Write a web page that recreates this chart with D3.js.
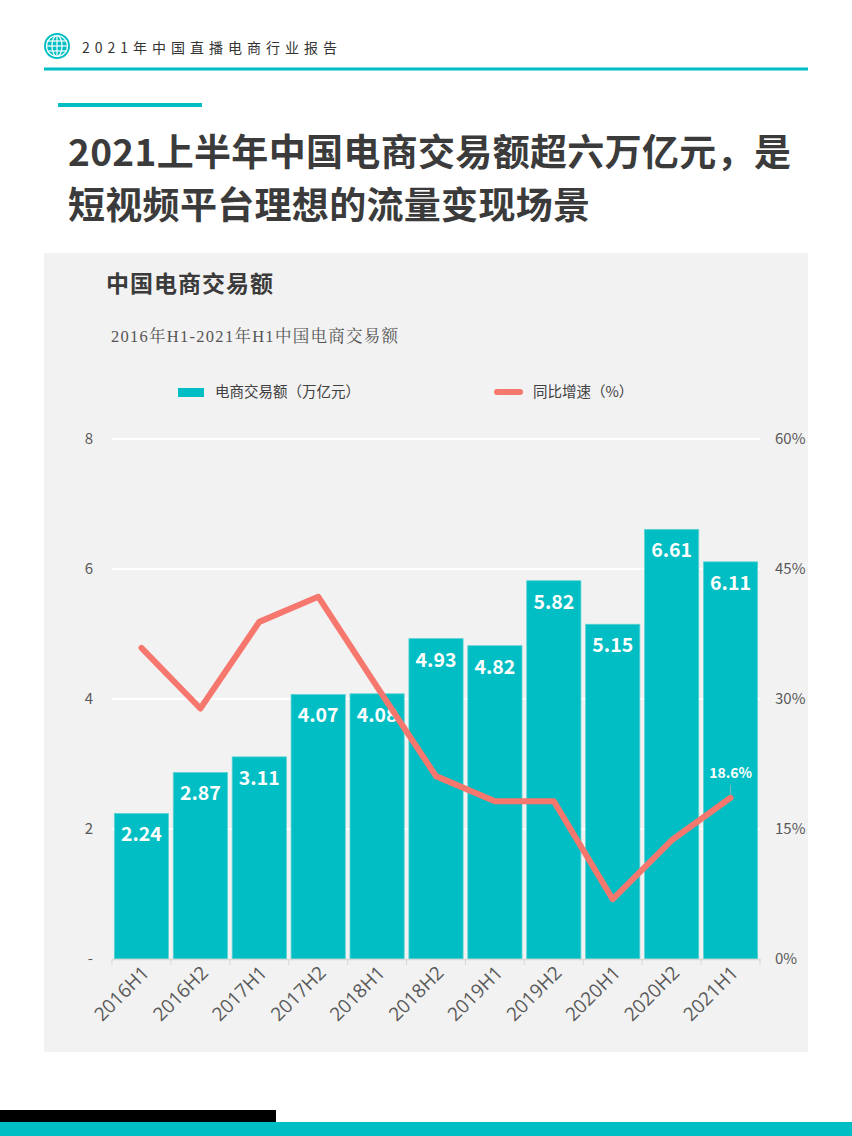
<!DOCTYPE html>
<html>
<head>
<meta charset="utf-8">
<script src="https://cdn.jsdelivr.net/npm/d3@7"></script>
<style>
  body { margin: 0; background: #fff; }
  svg { display: block; font-family: "Noto Sans CJK SC", "Open Sans", sans-serif; }
</style>
</head>
<body>
<div id="chart"></div>
<script>
// data
var periods = ['2016H1', '2016H2', '2017H1', '2017H2', '2018H1', '2018H2',
               '2019H1', '2019H2', '2020H1', '2020H2', '2021H1'];
var gmv = [2.24, 2.87, 3.11, 4.07, 4.08, 4.93, 4.82, 5.82, 5.15, 6.61, 6.11];   // 万亿元
var growth = [35.9, 28.9, 38.9, 41.8, 31.4, 21.1, 18.2, 18.2, 6.9, 13.7, 18.6]; // %
var leftTicks = [0, 2, 4, 6, 8];
var rightTicks = [0, 15, 30, 45, 60];

var teal = '#00bec3',
    salmon = '#f6776d',
    ink = '#3b3b3b';

var W = 852, H = 1136;
var svg = d3.select('#chart').append('svg')
    .attr('width', W)
    .attr('height', H);

// ---- page header ----
var icon = svg.append('g').attr('transform', 'translate(57,46)');
icon.append('circle').attr('r', 13).attr('fill', teal);
icon.append('circle').attr('r', 10.5).attr('fill', 'none').attr('stroke', '#fff').attr('stroke-width', 1.2);
icon.append('ellipse').attr('rx', 5).attr('ry', 10.5).attr('fill', 'none').attr('stroke', '#fff').attr('stroke-width', 1.2);
[-5, 0, 5].forEach(function(dy) {
    icon.append('line').attr('x1', -10).attr('x2', 10).attr('y1', dy).attr('y2', dy)
        .attr('stroke', '#fff').attr('stroke-width', 1.2);
});
icon.append('line').attr('x1', 0).attr('x2', 0).attr('y1', -10.5).attr('y2', 10.5)
    .attr('stroke', '#fff').attr('stroke-width', 1.2);

svg.append('text')
    .attr('x', 82).attr('y', 53)
    .attr('font-size', 14)
    .attr('textLength', 255)
    .attr('fill', '#333')
    .text('2021年中国直播电商行业报告');

svg.append('rect').attr('x', 44).attr('y', 67.5).attr('width', 764).attr('height', 3).attr('fill', teal);
svg.append('rect').attr('x', 58).attr('y', 103).attr('width', 144).attr('height', 4).attr('fill', teal);

// ---- headline ----
svg.append('text')
    .attr('x', 68).attr('y', 166)
    .attr('font-size', 37).attr('font-weight', 'bold')
    .attr('textLength', 723)
    .attr('fill', ink)
    .text('2021上半年中国电商交易额超六万亿元，是');
svg.append('text')
    .attr('x', 68).attr('y', 219)
    .attr('font-size', 37).attr('font-weight', 'bold')
    .attr('textLength', 522)
    .attr('fill', ink)
    .text('短视频平台理想的流量变现场景');

// ---- chart panel ----
svg.append('rect').attr('x', 44).attr('y', 253).attr('width', 764).attr('height', 799).attr('fill', '#f2f2f2');

svg.append('text')
    .attr('x', 106).attr('y', 292)
    .attr('font-size', 23).attr('font-weight', 'bold')
    .attr('textLength', 167)
    .attr('fill', ink)
    .text('中国电商交易额');

svg.append('text')
    .attr('x', 111).attr('y', 342)
    .attr('font-family', '"Liberation Serif", "Noto Serif CJK SC", serif')
    .attr('font-size', 16.5)
    .attr('textLength', 287)
    .attr('fill', '#555')
    .text('2016年H1-2021年H1中国电商交易额');

// legend
svg.append('rect').attr('x', 178).attr('y', 388).attr('width', 26).attr('height', 9).attr('fill', teal);
svg.append('text').attr('x', 215).attr('y', 397).attr('font-size', 14.5).attr('fill', '#404040')
    .text('电商交易额（万亿元）');
svg.append('line').attr('x1', 497).attr('x2', 520).attr('y1', 392).attr('y2', 392)
    .attr('stroke', salmon).attr('stroke-width', 6).attr('stroke-linecap', 'round');
svg.append('text').attr('x', 533).attr('y', 397).attr('font-size', 14.5).attr('fill', '#404040')
    .text('同比增速（%）');

// scales
var margin = {left: 112, right: 760, top: 439, bottom: 959};

var x = d3.scaleBand()
    .domain(periods)
    .range([margin.left, margin.right])
    .paddingInner(0.08)
    .paddingOuter(0.04);

var y = d3.scaleLinear().domain([0, 8]).range([margin.bottom, margin.top]);
var y2 = d3.scaleLinear().domain([0, 60]).range([margin.bottom, margin.top]);

// gridlines
svg.append('g')
    .selectAll('line')
    .data(leftTicks.slice(1))
    .enter().append('line')
    .attr('x1', margin.left).attr('x2', margin.right)
    .attr('y1', function(d) { return y(d); })
    .attr('y2', function(d) { return y(d); })
    .attr('stroke', '#fff').attr('stroke-width', 2);

// left axis labels
svg.append('g')
    .selectAll('text')
    .data(leftTicks)
    .enter().append('text')
    .attr('x', 93)
    .attr('y', function(d) { return y(d) + 5; })
    .attr('text-anchor', 'end')
    .attr('font-size', 15)
    .attr('fill', '#595959')
    .text(function(d) { return d === 0 ? '-' : d; });

// right axis labels
svg.append('g')
    .selectAll('text')
    .data(rightTicks)
    .enter().append('text')
    .attr('x', 775)
    .attr('y', function(d) { return y2(d) + 5; })
    .attr('font-size', 15)
    .attr('fill', '#595959')
    .text(function(d) { return d + '%'; });

// bars
svg.append('g')
    .selectAll('rect')
    .data(gmv)
    .enter().append('rect')
    .attr('x', function(d, i) { return x(periods[i]); })
    .attr('y', function(d) { return y(d); })
    .attr('width', x.bandwidth())
    .attr('height', function(d) { return y(0) - y(d); })
    .attr('fill', teal)
    .attr('stroke', '#5fd3d3')
    .attr('stroke-width', 0.8);

svg.append('g')
    .selectAll('text')
    .data(gmv)
    .enter().append('text')
    .attr('x', function(d, i) { return x(periods[i]) + x.bandwidth() / 2; })
    .attr('y', function(d) { return y(d) + 28; })
    .attr('text-anchor', 'middle')
    .attr('font-size', 19.5).attr('font-weight', 'bold')
    .attr('fill', '#fff')
    .text(function(d) { return d.toFixed(2); });

// x axis
var xAxis = svg.append('g')
    .attr('transform', 'translate(0,' + margin.bottom + ')')
    .call(d3.axisBottom(x).tickSize(0).tickFormat(''));
xAxis.select('.domain').attr('stroke', '#d9d9d9').attr('stroke-width', 1.5);

svg.append('g')
    .selectAll('line')
    .data(d3.range(periods.length + 1))
    .enter().append('line')
    .attr('x1', function(i) { return margin.left + (margin.right - margin.left) * i / periods.length; })
    .attr('x2', function(i) { return margin.left + (margin.right - margin.left) * i / periods.length; })
    .attr('y1', margin.bottom).attr('y2', margin.bottom + 6)
    .attr('stroke', '#d9d9d9').attr('stroke-width', 1);

svg.append('g')
    .selectAll('text')
    .data(periods)
    .enter().append('text')
    .attr('transform', function(d) {
        return 'translate(' + (x(d) + x.bandwidth() / 2 + 9) + ',' + (margin.bottom + 15) + ') rotate(-45)';
    })
    .attr('text-anchor', 'end')
    .attr('font-family', '"Open Sans", "Noto Sans", sans-serif')
    .attr('font-size', 19)
    .attr('fill', '#595959')
    .text(function(d) { return d; });

// growth line
var line = d3.line()
    .x(function(d, i) { return x(periods[i]) + x.bandwidth() / 2; })
    .y(function(d) { return y2(d); });

svg.append('path')
    .datum(growth)
    .attr('d', line)
    .attr('fill', 'none')
    .attr('stroke', salmon)
    .attr('stroke-width', 6)
    .attr('stroke-linecap', 'round')
    .attr('stroke-linejoin', 'round');

// last point label with leader
var last = growth.length - 1,
    lx = x(periods[last]) + x.bandwidth() / 2,
    ly = y2(growth[last]);
svg.append('line')
    .attr('x1', lx).attr('x2', lx)
    .attr('y1', ly - 3).attr('y2', ly - 13)
    .attr('stroke', '#9bb').attr('stroke-width', 0.8);
svg.append('text')
    .attr('x', lx).attr('y', ly - 20)
    .attr('text-anchor', 'middle')
    .attr('font-size', 14).attr('font-weight', 'bold')
    .attr('fill', '#fff')
    .text(growth[last] + '%');

// footer bars
svg.append('rect').attr('x', 0).attr('y', 1110).attr('width', 276).attr('height', 12).attr('fill', '#000');
svg.append('rect').attr('x', 0).attr('y', 1122).attr('width', W).attr('height', 14).attr('fill', teal);
</script>
</body>
</html>
